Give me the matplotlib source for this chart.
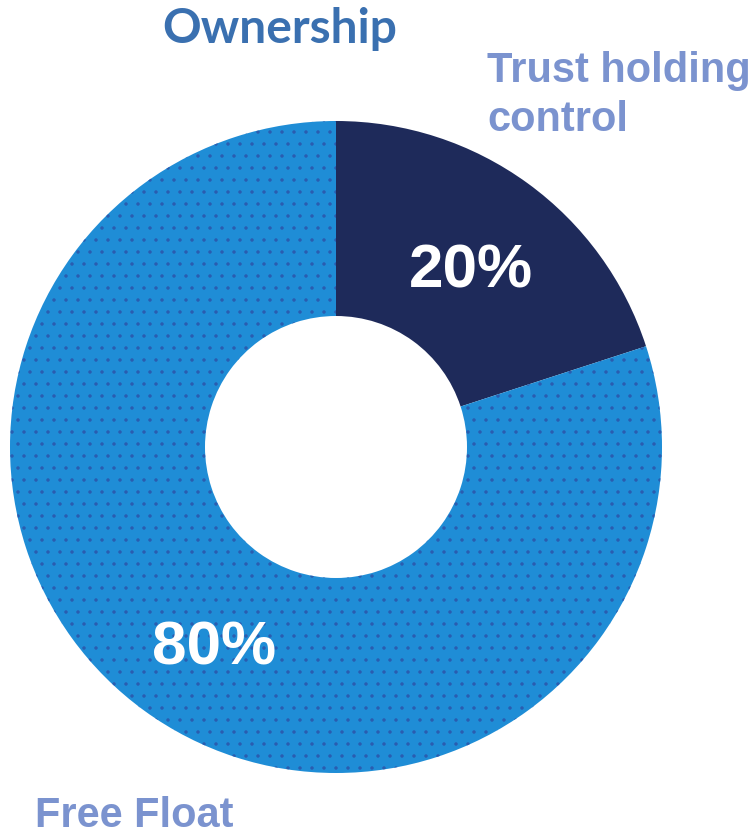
import matplotlib
matplotlib.use("Agg")
import matplotlib.pyplot as plt

# ownership split
labels = ["Trust holding\ncontrol", "Free Float"]
shares = [20, 80]
colors = ["#1e2a5a", "#1f8dd6"]

W, H = 756, 835
plt.rcParams["hatch.linewidth"] = 1.0
fig = plt.figure(figsize=(W / 72, H / 72), dpi=72)
ax = fig.add_axes([0, 0, 1, 1])

cx, cy, R, r_in = 336, 388, 326, 131
wedges, _, pcts = ax.pie(
    shares, colors=colors, startangle=90, counterclock=False,
    center=(cx, cy), radius=R, frame=True,
    wedgeprops=dict(width=R - r_in, linewidth=0),
    autopct=lambda p: f"{p:.0f}%", pctdistance=0.70,
    textprops=dict(color="white", fontsize=62, fontweight="bold",
                   family="Liberation Sans"),
)
ax.set_xlim(0, W)
ax.set_ylim(0, H)
ax.set_aspect("equal")
ax.axis("off")

# nudge the percentage labels a little
for t, (dx, dy) in zip(pcts, [(1, -10), (12, -17)]):
    x, y = t.get_position()
    t.set_position((x + dx, y + dy))

# dotted texture on the free float slice
wedges[1].set_hatch(".")
wedges[1].set_edgecolor("#2a5cb0")

fig.text(280 / W, 1 - 29 / H, "Ownership", ha="center", va="center",
         fontsize=48, fontweight="bold", color="#3a70b0", family="Lato")
fig.text(487 / W, 1 - 131 / H, labels[0], ha="left", va="baseline",
         fontsize=41.5, fontweight="bold", color="#7b93cf",
         family="Liberation Sans", linespacing=1.3)
fig.text(35 / W, 1 - 827 / H, labels[1], ha="left", va="baseline",
         fontsize=41.5, fontweight="bold", color="#7b93cf",
         family="Liberation Sans")

fig.savefig("out.png", dpi=72, facecolor="white")
